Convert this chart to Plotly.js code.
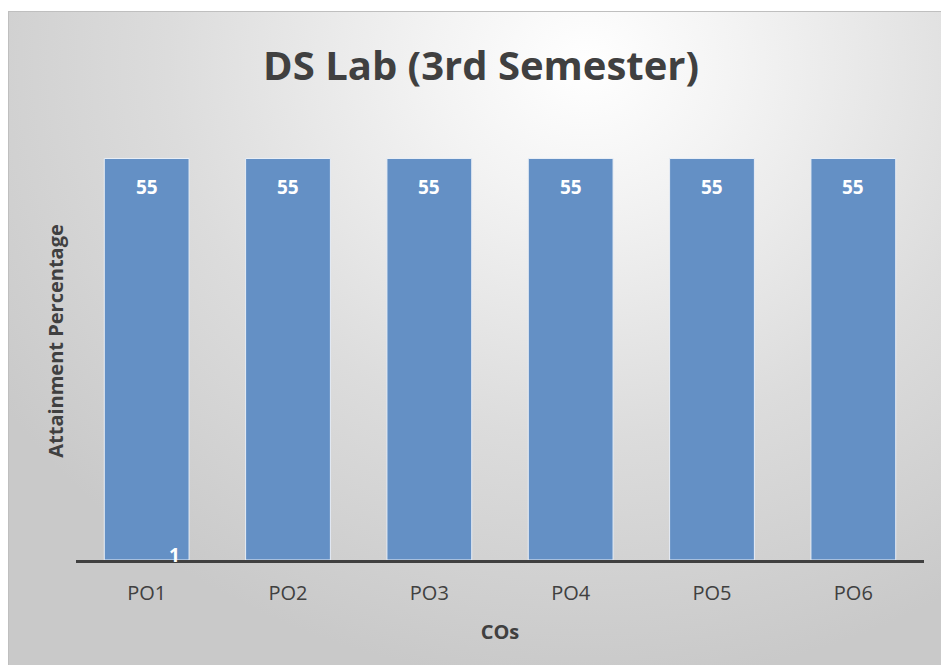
<!DOCTYPE html>
<html>
<head>
<meta charset="utf-8">
<script src="https://cdn.plot.ly/plotly-3.0.1.min.js"></script>
<style>
  html, body { margin: 0; padding: 0; background: #ffffff; }
  #frame {
    position: absolute; left: 8px; top: 11px; width: 933px; height: 654px;
    border-top: 1px solid #bfbfbf; border-left: 1px solid #bfbfbf;
    box-sizing: border-box;
    background: radial-gradient(ellipse 75% 95% at 62% 8%, #ffffff 0%, #f3f3f3 22%, #dcdcdc 60%, #c9c9c9 100%);
  }
  #chart { width: 933px; height: 654px; }
</style>
</head>
<body>
<div id="frame"><div id="chart"></div></div>
<script>
// values
const categories = ['PO1', 'PO2', 'PO3', 'PO4', 'PO5', 'PO6'];
const attainment = [55, 55, 55, 55, 55, 55];
const strayLabel = { category: 'PO1', value: 1, text: '1' };

const textColor = '#404040';
const font = '"Open Sans", "Liberation Sans", sans-serif';

const bars = {
    type: 'bar',
    x: categories,
    y: attainment,
    marker: { color: '#6490c5', line: { color: '#e8eef6', width: 1 } },
    hoverinfo: 'x+y'
};

// data labels sit a little below the top of each bar, like Excel's "inside end"
const labels = categories.map((c, i) => ({
    x: c, y: attainment[i], xref: 'x', yref: 'y',
    text: '<b>' + attainment[i] + '</b>',
    showarrow: false, yanchor: 'top', yshift: -13,
    font: { family: font, size: 19, color: '#ffffff' }
}));
labels.push({
    x: strayLabel.category, y: strayLabel.value, xref: 'x', yref: 'y',
    text: '<b>' + strayLabel.text + '</b>',
    showarrow: false, yanchor: 'middle', xshift: 28, yshift: -2,
    font: { family: font, size: 19, color: '#ffffff' }
});

const layout = {
    width: 933,
    height: 654,
    margin: { l: 67, r: 18, t: 110, b: 106 },
    paper_bgcolor: 'rgba(0,0,0,0)',
    plot_bgcolor: 'rgba(0,0,0,0)',
    showlegend: false,
    bargap: 0.4,
    font: { family: font, color: textColor },
    title: {
        text: '<b>DS Lab (3rd Semester)</b>',
        font: { family: font, size: 40, color: textColor },
        x: 0.506, xref: 'container', xanchor: 'center',
        y: 0.918, yref: 'container', yanchor: 'middle'
    },
    xaxis: {
        showline: true, linecolor: '#404040', linewidth: 3,
        ticks: 'outside', ticklen: 13, tickcolor: 'rgba(0,0,0,0)',
        tickfont: { family: font, size: 20, color: textColor },
        title: { text: '<b>COs</b>', standoff: 20, font: { family: font, size: 20, color: textColor } },
        fixedrange: true
    },
    yaxis: {
        range: [0, 60],
        showgrid: false, zeroline: false, showline: false, showticklabels: false, ticks: '',
        title: { text: '<b>Attainment Percentage</b>', standoff: 6, font: { family: font, size: 20, color: textColor } },
        fixedrange: true
    },
    annotations: labels
};

Plotly.newPlot('chart', [bars], layout, { displayModeBar: false, staticPlot: true });
</script>
</body>
</html>
